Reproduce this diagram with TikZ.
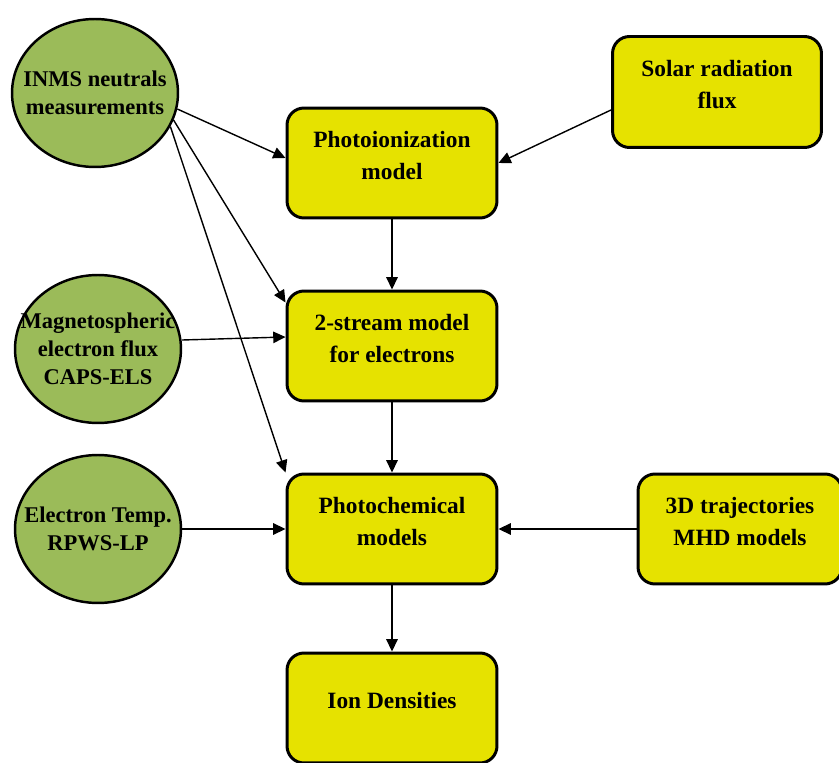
\documentclass[tikz,border=0pt]{standalone}
\usepackage{fontspec}
\setmainfont{Liberation Serif}
\usetikzlibrary{shapes.geometric,arrows.meta}
\definecolor{datagreen}{RGB}{155,187,89}
\definecolor{modelyellow}{RGB}{230,226,0}

\begin{document}
\begin{tikzpicture}[x=0.02cm, y=-0.02cm,
  srctext/.style={align=center, inner sep=0pt, font=\fontsize{12.8}{16}\selectfont\bfseries},
  source/.style={ellipse, draw, line width=1.4pt, fill=datagreen, minimum width=3.32cm, minimum height=2.96cm, inner sep=0pt, label={[srctext]center:#1}},
  model/.style={rectangle, rounded corners=0.34cm, draw, line width=1.7pt, fill=modelyellow, minimum width=4.2cm, minimum height=2.2cm, align=center, text depth=9pt, font=\fontsize{13.3}{18}\selectfont\bfseries},
  feed/.style={-{Triangle[length=7pt,width=6.5pt]}, line width=0.8pt}]
\useasboundingbox (0,0) rectangle (839,763);

\node[source={INMS neutrals\\measurements}] (inms) at (95,93) {};
\node[source={Magnetospheric\\electron flux\\CAPS-ELS}] (magneto) at (98,349) {};
\node[source={Electron Temp.\\RPWS-LP}] (electemp) at (98,529) {};

\node[model] (photoion) at (392,163) {Photoionization\\model};
\node[model, minimum width=4.18cm, minimum height=2.22cm] (solar) at (717,92) {Solar radiation\\flux};
\node[model] (twostream) at (392,346) {2-stream model\\for electrons};
\node[model] (photochem) at (392,529) {Photochemical\\models};
\node[model, minimum width=4.08cm] (traj) at (740,529) {3D trajectories\\MHD models};
\node[model] (iondens) at (392,708) {Ion Densities};

\draw[feed] (inms.-11) -- ([yshift=0.1cm]photoion.west);
\draw[feed] (inms.-19) -- ([yshift=-0.26cm]twostream.north west);
\draw[feed] (inms.-24) -- (photochem.north west);
\draw[feed] ([yshift=-0.36cm]solar.west) -- (photoion.east);

\draw[feed] (photoion) -- (twostream);
\draw[feed] ([yshift=0.18cm]magneto.east) -- ([yshift=0.18cm]twostream.west);
\draw[feed] (twostream) -- (photochem);
\draw[feed] (electemp) -- (photochem);
\draw[feed] (traj) -- (photochem);
\draw[feed] (photochem) -- (iondens);
\end{tikzpicture}
\end{document}
